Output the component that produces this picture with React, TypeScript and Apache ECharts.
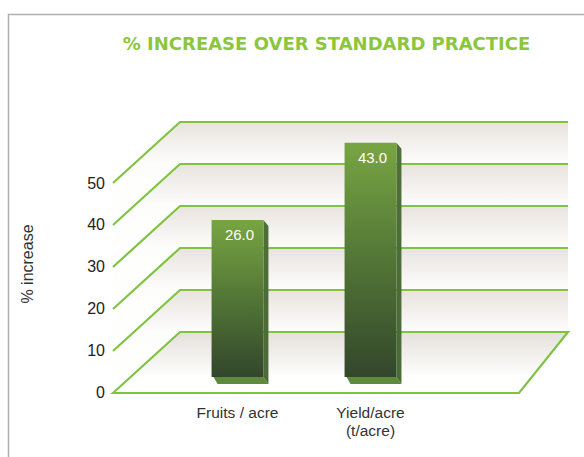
import React, { useEffect, useRef } from "react";
import * as echarts from "echarts";

const categories = ["Fruits / acre", "Yield/acre\n(t/acre)"];
const values = [26.0, 43.0];
const yTicks = [0, 10, 20, 30, 40, 50];
const titleText = "% INCREASE OVER STANDARD PRACTICE";
const yName = "% increase";

const GREEN = "#80c342";
const DEPTH_X = 67;
const DEPTH_Y = 61;
const DEPTH_XR = 49;
const STEP = 10;
const BAR_RATIO = 0.39;
const BASE_DROP = 39;

export default function App() {
  const ref = useRef<HTMLDivElement>(null);
  useEffect(() => {
    if (!ref.current) return;
    const chart = echarts.init(ref.current, null, { renderer: "svg" });
    const font = '"Liberation Sans", Arial, sans-serif';

    const shelfItem = (params: any, api: any) => {
      const v = api.value(0);
      const bl = api.coord([0, v]);
      const br = api.coord([1, v]);
      const fl = [bl[0] - DEPTH_X, bl[1] + DEPTH_Y];
      const children: any[] = [];
      if (v === 0) {
        const fr = [br[0] - DEPTH_XR, br[1] + DEPTH_Y];
        children.push({
          type: "polygon",
          z2: 1,
          shape: { points: [fl, bl, br, fr] },
          style: {
            fill: new echarts.graphic.LinearGradient(0, 0, 0, 1, [
              { offset: 0, color: "#e5e0db" },
              { offset: 0.75, color: "#ffffff" },
              { offset: 1, color: "#ffffff" },
            ]),
            stroke: GREEN,
            lineWidth: 2.2,
          },
        });
      } else {
        const bl2 = api.coord([0, v - STEP]);
        const br2 = api.coord([1, v - STEP]);
        const fl2 = [bl2[0] - DEPTH_X, bl2[1] + DEPTH_Y];
        children.push({
          type: "polygon",
          z2: 0,
          shape: { points: [fl, bl, br, br2, bl2, fl2] },
          style: {
            fill: new echarts.graphic.LinearGradient(0, 0, 0, 1, [
              { offset: 0, color: "#e8e3de" },
              { offset: 0.4, color: "#fdfdfc" },
              { offset: 1, color: "#ffffff" },
            ]),
          },
        });
        children.push({
          type: "polyline",
          z2: 10,
          shape: { points: [fl, bl, br] },
          style: { stroke: GREEN, lineWidth: 2.2, fill: null },
        });
      }
      return { type: "group", children };
    };

    const barItem = (params: any, api: any) => {
      const idx = api.value(0);
      const val = api.value(1);
      const top = api.coord([idx, val]);
      const zero = api.coord([idx, 0]);
      const w = api.size([1, 0])[0] * BAR_RATIO;
      const x = top[0] - w / 2;
      const y = top[1];
      const bottom = zero[1] + BASE_DROP;
      const dx = 5;
      const dy = 6;
      return {
        type: "group",
        children: [
          {
            type: "polygon",
            shape: {
              points: [
                [x + 2, bottom],
                [x + w, bottom],
                [x + w + dx, bottom + dy + 1],
                [x + dx + 1, bottom + dy + 1],
              ],
            },
            style: { fill: "#5e8a3c" },
          },
          {
            type: "polygon",
            shape: {
              points: [
                [x + w, y],
                [x + w + dx, y + dy],
                [x + w + dx, bottom + dy + 1],
                [x + w, bottom],
              ],
            },
            style: {
              fill: new echarts.graphic.LinearGradient(0, 0, 0, 1, [
                { offset: 0, color: "#4f6f38" },
                { offset: 1, color: "#4a6a36" },
              ]),
            },
          },
          {
            type: "rect",
            shape: { x, y, width: w, height: bottom - y },
            style: {
              fill: new echarts.graphic.LinearGradient(0, 0, 0, 1, [
                { offset: 0, color: "#78a543" },
                { offset: 0.5, color: "#527636" },
                { offset: 1, color: "#33462b" },
              ]),
            },
          },
          {
            type: "text",
            style: {
              text: val.toFixed(1),
              x: top[0] + 2,
              y: y + 15,
              align: "center",
              verticalAlign: "middle",
              fill: "#ffffff",
              fontSize: 15,
              fontFamily: font,
            },
          },
        ],
      };
    };

    chart.setOption({
      animation: false,
      graphic: [
        {
          type: "polyline",
          shape: { points: [[8.5, 457], [8.5, 14.5], [584, 14.5]] },
          style: { stroke: "#b0b0b0", lineWidth: 1.5, fill: null },
        },
        {
          type: "text",
          x: 326.5,
          y: 43,
          style: {
            text: titleText,
            align: "center",
            verticalAlign: "middle",
            fill: "#8cc63f",
            fontSize: 18,
            fontWeight: "bold",
            fontFamily: '"DejaVu Sans", sans-serif',
          },
        },
        {
          type: "text",
          x: 27,
          y: 264,
          rotation: Math.PI / 2,
          style: {
            text: yName,
            align: "center",
            verticalAlign: "middle",
            fill: "#333333",
            fontSize: 16,
            fontFamily: font,
          },
        },
      ],
      grid: [
        { left: 113, top: 183, width: 455, height: 209 },
        { left: 180, top: 122, width: 388, height: 210 },
        { left: 171, top: 111, width: 266, height: 227 },
      ],
      xAxis: [
        { gridIndex: 0, type: "value", show: false, min: 0, max: 1 },
        { gridIndex: 1, type: "value", show: false, min: 0, max: 1 },
        {
          gridIndex: 2,
          type: "category",
          data: categories,
          axisLine: { show: false },
          axisTick: { show: false },
          axisLabel: {
            margin: 65,
            color: "#333333",
            fontSize: 15.5,
            lineHeight: 18,
            fontFamily: font,
          },
        },
      ],
      yAxis: [
        {
          gridIndex: 0,
          type: "value",
          min: 0,
          max: 50,
          interval: 10,
          axisLine: { show: false },
          axisTick: { show: false },
          splitLine: { show: false },
          axisLabel: { margin: 8, color: "#222222", fontSize: 16, fontFamily: font },
        },
        { gridIndex: 1, type: "value", min: 0, max: 50, show: false, splitLine: { show: false } },
        { gridIndex: 2, type: "value", min: 0, max: 50, show: false, splitLine: { show: false } },
      ],
      series: [
        {
          type: "custom",
          name: "shelves",
          xAxisIndex: 1,
          yAxisIndex: 1,
          clip: false,
          silent: true,
          renderItem: shelfItem,
          data: yTicks.map((v) => [v]),
          encode: { y: 0 },
          z: 1,
        },
        {
          type: "custom",
          name: "bars",
          xAxisIndex: 2,
          yAxisIndex: 2,
          clip: false,
          renderItem: barItem,
          data: values.map((v, i) => [i, v]),
          encode: { x: 0, y: 1 },
          z: 5,
        },
      ],
    });
    return () => chart.dispose();
  }, []);
  return (
    <div
      ref={ref}
      style={{ position: "fixed", left: 0, top: 0, width: 584, height: 457, background: "#fff" }}
    />
  );
}
